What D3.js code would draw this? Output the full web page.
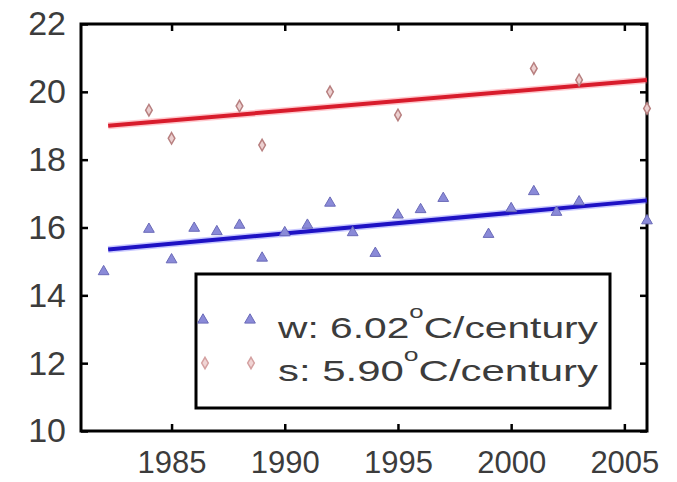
<!DOCTYPE html>
<html>
<head>
<meta charset="utf-8">
<script src="https://cdn.jsdelivr.net/npm/d3@7"></script>
<style>
  body { margin: 0; background: #fff; }
  text { font-family: "Liberation Sans", Arial, sans-serif; }
</style>
</head>
<body>
<div class="chart"></div>
<script>
// winter (w) series, triangles
const wYears = [1982, 1984, 1985, 1986, 1987, 1988, 1989, 1990, 1991, 1992, 1993, 1994,
                1995, 1996, 1997, 1999, 2000, 2001, 2002, 2003, 2006]
const wTemps = [14.7, 15.95, 15.05, 15.98, 15.88, 16.07, 15.1, 15.85, 16.07, 16.72, 15.85, 15.24,
                16.37, 16.53, 16.86, 15.8, 16.56, 17.06, 16.45, 16.76, 16.2]
// summer (s) series, diamonds
const sYears = [1984, 1985, 1988, 1989, 1992, 1995, 2001, 2003, 2006]
const sTemps = [19.46, 18.63, 19.58, 18.43, 20.0, 19.32, 20.69, 20.35, 19.51]
// fitted trend lines, start and end
const fitYears = [1982.2, 2006]
const wFit = [15.35, 16.8]
const sFit = [19.0, 20.35]

const xTicks = [1985, 1990, 1995, 2000, 2005]
const yTicks = [10, 12, 14, 16, 18, 20, 22]
const legendRows = [
  {name: 'w: 6.02', unit: 'C/century'},
  {name: 's: 5.90', unit: 'C/century'}
]

const W = 677, H = 482
const margin = {top: 24, right: 30, bottom: 51, left: 81}

const svg = d3.select('.chart').append('svg')
  .attr('width', W)
  .attr('height', H)

const x = d3.scaleLinear().domain([1981, 2006]).range([margin.left, W - margin.right])
const y = d3.scaleLinear().domain([10, 22]).range([H - margin.bottom, margin.top])

// axes, ticks pointing inwards
const tk = 7
svg.append('g')
  .attr('transform', 'translate(' + margin.left + ',0)')
  .call(d3.axisLeft(y).tickValues(yTicks).tickSizeInner(-tk).tickSizeOuter(0).tickPadding(15))
  .call(g => g.select('.domain').remove())
  .call(g => g.selectAll('text').style('font-size', '34px').attr('fill', '#3c3c3c'))

svg.append('g')
  .attr('transform', 'translate(' + (W - margin.right) + ',0)')
  .call(d3.axisRight(y).tickValues(yTicks).tickSizeInner(-tk).tickSizeOuter(0).tickFormat(''))
  .call(g => g.select('.domain').remove())

svg.append('g')
  .attr('transform', 'translate(0,' + (H - margin.bottom) + ')')
  .call(d3.axisBottom(x).tickValues(xTicks).tickSizeInner(-tk).tickSizeOuter(0)
    .tickPadding(20).tickFormat(d3.format('d')))
  .call(g => g.select('.domain').remove())
  .call(g => g.selectAll('text').style('font-size', '31px').attr('fill', '#3c3c3c'))

svg.append('g')
  .attr('transform', 'translate(0,' + margin.top + ')')
  .call(d3.axisTop(x).tickValues(xTicks).tickSizeInner(-tk).tickSizeOuter(0).tickFormat(''))
  .call(g => g.select('.domain').remove())

svg.selectAll('.tick line').attr('stroke', '#000').attr('stroke-width', 2.5)

// frame
svg.append('rect')
  .attr('x', x(1981))
  .attr('y', y(22))
  .attr('width', x(2006) - x(1981))
  .attr('height', y(10) - y(22))
  .attr('fill', 'none')
  .attr('stroke', '#000')
  .attr('stroke-width', 3)

// trend lines
const line = d3.line().x(d => x(d[0])).y(d => y(d[1]))
function trend(vals, halo, core) {
  const pts = fitYears.map((yr, i) => [yr, vals[i]])
  svg.append('path').attr('d', line(pts)).attr('fill', 'none')
    .attr('stroke', halo).attr('stroke-width', 7).attr('opacity', 0.35)
  svg.append('path').attr('d', line(pts)).attr('fill', 'none')
    .attr('stroke', core).attr('stroke-width', 4)
}
trend(sFit, '#ff6070', '#d81c2c')
trend(wFit, '#6060ff', '#1e12c4')

// markers
const tri = d3.symbol().type(d3.symbolTriangle).size(50)
const dia = d3.symbol().type(d3.symbolDiamond).size(38)

svg.append('g').selectAll('path')
  .data(wYears.map((yr, i) => [yr, wTemps[i]]))
  .join('path')
  .attr('d', tri)
  .attr('transform', d => 'translate(' + x(d[0]) + ',' + y(d[1]) + ')')
  .attr('fill', '#8a8ad8')
  .attr('stroke', '#6a6ab8')
  .attr('stroke-width', 1)

svg.append('g').selectAll('path')
  .data(sYears.map((yr, i) => [yr, sTemps[i]]))
  .join('path')
  .attr('d', dia)
  .attr('transform', d => 'translate(' + x(d[0]) + ',' + y(d[1]) + ')')
  .attr('fill', '#ecd0d0')
  .attr('stroke', '#b88080')
  .attr('stroke-width', 1.5)

// legend
const lg = svg.append('g')
lg.append('rect')
  .attr('x', 196).attr('y', 274)
  .attr('width', 414).attr('height', 134)
  .attr('fill', '#fff')
  .attr('stroke', '#000')
  .attr('stroke-width', 3)

const rowY = [320, 363]
const baseY = [338, 381]
lg.selectAll('.m0').data([203, 250]).join('path')
  .attr('d', tri)
  .attr('transform', d => 'translate(' + d + ',' + rowY[0] + ')')
  .attr('fill', '#8a8ad8').attr('stroke', '#6a6ab8')
lg.selectAll('.m1').data([205, 251]).join('path')
  .attr('d', dia)
  .attr('transform', d => 'translate(' + d + ',' + rowY[1] + ')')
  .attr('fill', '#f0d4d4').attr('stroke', '#d4a0a0').attr('stroke-width', 1.5)

legendRows.forEach((r, i) => {
  const t = lg.append('text')
    .attr('x', 278)
    .attr('y', baseY[i])
    .attr('fill', '#3c3c3c')
    .style('font-size', '30px')
    .attr('textLength', 320)
    .attr('lengthAdjust', 'spacingAndGlyphs')
  t.append('tspan').text(r.name)
  t.append('tspan').attr('dy', -20).style('font-size', '19px').text('o')
  t.append('tspan').attr('dy', 20).text(r.unit)
})
</script>
</body>
</html>
